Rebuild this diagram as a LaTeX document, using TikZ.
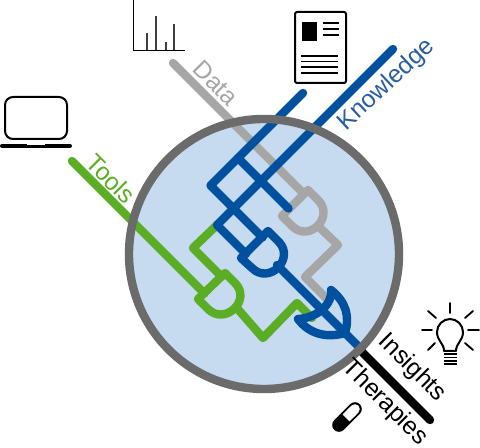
\documentclass[tikz,border=0pt]{standalone}
\usepackage{fontspec}
\setmainfont{Liberation Sans}
\definecolor{lcblue}{HTML}{0050A0}
\definecolor{lcbluet}{HTML}{2A5CA0}
\definecolor{lcgreen}{HTML}{5BAD26}
\definecolor{lcgrey}{HTML}{A6A6A6}
\definecolor{lcring}{HTML}{6B6B6B}
\definecolor{lcfill}{HTML}{C6DBF0}
\tikzset{
  wire/.style     = {line width=2.1mm, line cap=round, line join=round},
  bluewire/.style = {wire, draw=lcblue},
  greenwire/.style= {wire, draw=lcgreen},
  greywire/.style = {wire, draw=lcgrey},
  lbl/.style      = {font=\fontsize{17.5}{20}\selectfont, inner sep=0pt},
  icon/.style     = {draw=black, line width=0.5mm, line join=round},
  thin/.style     = {draw=black, line width=0.35mm},
  ray/.style      = {draw=black, line width=0.45mm, line cap=round},
}
\begin{document}
\begin{tikzpicture}[x=0.25mm,y=-0.25mm]
  \useasboundingbox (0,0) rectangle (480,448);

  % ---------- disc --------------------------------------------------------
  \coordinate (centre) at (264,254);
  \fill[lcfill] (centre) circle [radius=33.75mm];

  % ---------- green branch ------------------------------------------------
  \coordinate (toolsin) at (72,161);
  \coordinate (toolsand) at (204.5,293.5);
  \coordinate (greenup) at (193,248);
  \coordinate (greenjoin) at (217,225);
  \coordinate (greenand) at (221.5,276.5);
  \coordinate (greentip) at (236,307);
  \coordinate (greenlow) at (263,338);
  \coordinate (greenhigh) at (297,303);
  \coordinate (greenor) at (312,318);
  \draw[greenwire] (toolsin) -- (toolsand);
  \draw[greenwire] (greenjoin) -- (greenup) -- (greenand);
  \draw[greenwire] (225,273) -- (235,283)
    .. controls (252,300) and (225,326) .. (208,309) -- (198,299) -- cycle;
  \draw[greenwire] (greentip) -- (greenlow) -- (greenhigh) -- (greenor);

  % ---------- grey branch -------------------------------------------------
  \coordinate (datain) at (173,63);
  \coordinate (dataand) at (303.5,193.5);
  \coordinate (greytip) at (318,226);
  \coordinate (greyhigh) at (338,245);
  \coordinate (greylow) at (305,277);
  \coordinate (greyor) at (326,298);
  \draw[greywire] (datain) -- (dataand);
  \draw[greywire] (308,190) -- (318,200)
    .. controls (335,217) and (309,243) .. (292,226) -- (282,216) -- cycle;
  \draw[greywire] (greytip) -- (greyhigh) -- (greylow) -- (greyor);

  % ---------- blue branch -------------------------------------------------
  \coordinate (knowa) at (303,93);
  \coordinate (knowb) at (393,49);
  \coordinate (cornera) at (210.5,185.5);
  \coordinate (cornerb) at (217,225);
  \coordinate (splita) at (238,158);
  \coordinate (greyand) at (288.5,208.5);
  \coordinate (bluea) at (262.5,237.5);
  \coordinate (blueb) at (246,254);
  \coordinate (bluetip) at (277,265);
  \coordinate (blueout) at (362,350);
  \draw[bluewire] (knowa) -- (cornera) -- (bluea);
  \draw[bluewire] (knowb) -- (cornerb) -- (blueb);
  \draw[bluewire] (splita) -- (greyand);
  \draw[bluewire] (268,231) -- (279,242)
    .. controls (295,259) and (269,285) .. (252,268) -- (241,258) -- cycle;
  \draw[bluewire] (bluetip) -- (blueout);
  % or gate
  \draw[bluewire] (331,290) .. controls (333,303) and (318,318) .. (298,319)
    .. controls (310,335) and (328,338) .. (345,333)
    .. controls (350,316) and (346,302) .. cycle;

  % ---------- ring and exit -----------------------------------------------
  \draw[line width=2.1mm, black] (360,350) -- (430,420);
  \fill[black] (430,420) circle [radius=1.05mm];
  \draw[lcring, line width=2.1mm] (centre) circle [radius=33.75mm];

  % ---------- labels ------------------------------------------------------
  \node[lbl, text=lcgreen, rotate=-45] (tools) at (111,179) {Tools};
  \node[lbl, text=lcgrey, rotate=-45] (data) at (216,83) {Data};
  \node[lbl, text=lcbluet, rotate=43] (know) at (387,85) {Knowledge};
  \node[lbl, rotate=-45] (insights) at (412,368) {Insights};
  \node[lbl, rotate=-45] (therapies) at (385,403) {Therapies};

  % ---------- laptop ------------------------------------------------------
  \draw[icon, rounded corners=2mm] (5,97) rectangle (67,139);
  \draw[black, line width=1mm, line cap=round] (2,146) -- (70,146);
  \draw[white, line width=0.2mm] (27,144.6) -- (45,144.6);

  % ---------- chart -------------------------------------------------------
  \draw[thin] (133.5,0) -- (133.5,50.5) -- (185,50.5);
  \foreach \barx/\bary in {147/33, 156/16, 166/42, 174/24}
    \draw[draw=black!75, line width=0.35mm] (\barx,50) -- (\barx,\bary);

  % ---------- paper -------------------------------------------------------
  \draw[icon, rounded corners=0.5mm, fill=white] (295,12) rectangle (346,83);
  \fill[black] (302,22) rectangle (317,41);
  \foreach \liney in {23,29,35}
    \draw[thin] (323,\liney) -- (339,\liney);
  \foreach \liney in {56,61.5,67,73}
    \draw[thin] (301,\liney) -- (338,\liney);

  % ---------- bulb --------------------------------------------------------
  \draw[icon] (444,351) .. controls (444,343) and (437,341) .. (437,332)
    .. controls (437,325) and (443,319) .. (450,319)
    .. controls (457,319) and (463,325) .. (463,332)
    .. controls (463,341) and (456,343) .. (456,351) -- cycle;
  \foreach \liney in {354,357.5,361,364}
    \draw[thin] (444,\liney) -- (457,\liney);
  \draw[ray] (450,303) -- (450,313);
  \draw[ray] (422,330) -- (432,330);
  \draw[ray] (468,330) -- (479,330);
  \draw[ray] (428,311) -- (436,318);
  \draw[ray] (473,311) -- (465,318);
  \draw[ray] (428,350) -- (435,343);
  \draw[ray] (473,350) -- (465,343);

  % ---------- pill --------------------------------------------------------
  \draw[black, line width=3.4mm, line cap=round] (339,425) -- (355,409);
  \draw[white, line width=2.4mm, line cap=round] (351,413) -- (355,409);
  \draw[white, line width=2.4mm] (346,418) -- (353,411);
\end{tikzpicture}
\end{document}
